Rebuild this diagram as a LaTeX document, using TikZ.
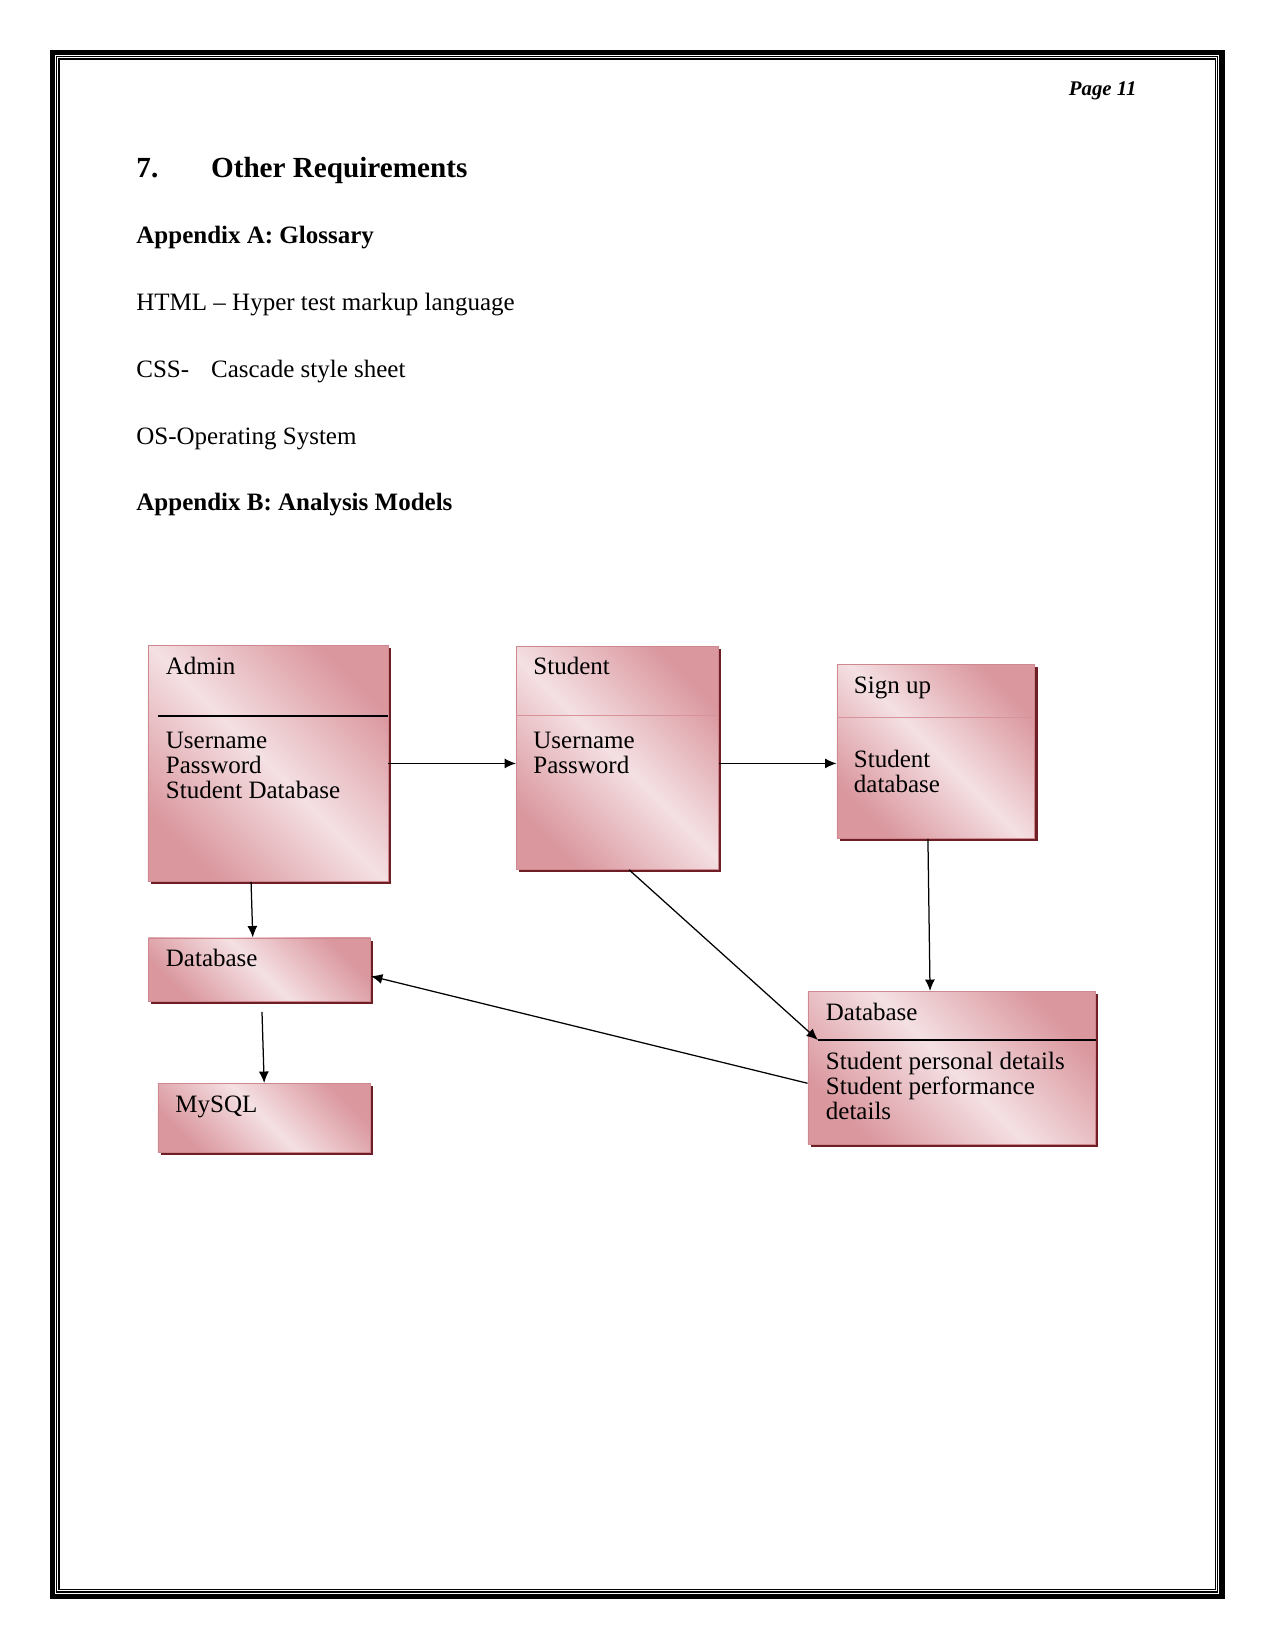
\documentclass[tikz,border=0pt]{standalone}
\usepackage{fontspec}
\setmainfont{Liberation Serif}
\usepackage{tikz}
\usetikzlibrary{arrows.meta,positioning,calc,shadows}
\definecolor{roseedge}{HTML}{DA979E}
\definecolor{roselight}{HTML}{F4E0E3}
\definecolor{roseline}{HTML}{CF8890}
\definecolor{rosedivide}{HTML}{D8929A}
\definecolor{boxshadow}{HTML}{6E1F26}
\tikzset{
  classbox/.style={draw=roseline,line width=0.4pt,anchor=north west,inner sep=0pt,
                   left color=roseedge,right color=roseedge,middle color=roselight,
                   shading angle=135,
                   general shadow={fill=boxshadow,shadow xshift=1.3pt,shadow yshift=-1.3pt}},
  titletext/.style={anchor=base west,inner sep=0pt,font=\fontsize{12pt}{11.8pt}\selectfont},
  bodytext/.style={anchor=base west,inner sep=0pt,align=left,
                   font=\fontsize{12pt}{11.8pt}\selectfont},
  pagetext/.style={anchor=base west,inner sep=0pt,font=\fontsize{12pt}{14pt}\selectfont},
  headtext/.style={anchor=base west,inner sep=0pt,font=\fontsize{14pt}{16pt}\selectfont\bfseries},
  blackdiv/.style={line width=0.6pt,black},
  pinkdiv/.style={line width=0.8pt,rosedivide},
  flowarr/.style={-{Latex[length=5.5pt,width=4.8pt]},line width=0.6pt}
}

\begin{document}
\begin{tikzpicture}[x=0.48pt,y=-0.48pt]
  \useasboundingbox (0,0) rectangle (1275,1650);
  % page frame
  \draw[line width=2.5pt] (52.5,52.5) rectangle (1222,1596.5);
  \draw[line width=0.5pt] (56.5,56.5) rectangle (1217.5,1592);
  \draw[line width=0.5pt] (59,59) rectangle (1215,1589.5);

  % header and glossary text
  \node[anchor=base east,inner sep=0pt,font=\fontsize{10pt}{12pt}\selectfont\bfseries\itshape]
    (pageno) at (1137,96) {Page 11};
  \node[headtext] (secnum) at (136,177.3) {7.};
  \node[headtext] (sectitle) at (210.7,177.3) {Other Requirements};
  \node[pagetext,font=\fontsize{12pt}{14pt}\selectfont\bfseries] (appA) at (136,244) {Appendix A: Glossary};
  \node[pagetext] (html) at (136,310.7) {HTML -- Hyper test markup language};
  \node[pagetext] (css) at (136,377.3) {CSS-};
  \node[pagetext] (cssdef) at (210.7,377.3) {Cascade style sheet};
  \node[pagetext] (os) at (136,444) {OS-Operating System};
  \node[pagetext,font=\fontsize{12pt}{14pt}\selectfont\bfseries] (appB) at (136,510) {Appendix B: Analysis Models};

  % boxes
  \node[classbox,minimum width=115.2pt,minimum height=113.3pt] (admin) at (147.5,645) {};
  \node[classbox,minimum width=97pt,minimum height=107pt] (student) at (516,646) {};
  \node[classbox,minimum width=95pt,minimum height=83.5pt] (signup) at (836.5,664) {};
  \node[classbox,minimum width=106.6pt,minimum height=30.5pt] (dbl) at (148,937.5) {};
  \node[classbox,minimum width=102pt,minimum height=32.9pt] (mysql) at (157.5,1083) {};
  \node[classbox,minimum width=138pt,minimum height=73.4pt] (dbr) at (807.5,991) {};

  % compartment lines
  \coordinate (admindiv) at ($(admin.north west)+(10,71)$);
  \coordinate (studentdiv) at ($(student.north west)+(0,69.5)$);
  \coordinate (signupdiv) at ($(signup.north west)+(0,53.5)$);
  \coordinate (dbrdiv) at ($(dbr.north west)+(10.5,49)$);
  \draw[blackdiv] (admindiv) -- (admindiv -| admin.east);
  \draw[pinkdiv] (studentdiv) -- (studentdiv -| student.east);
  \draw[pinkdiv] (signupdiv) -- (signupdiv -| signup.east);
  \draw[blackdiv] (dbrdiv) -- (dbrdiv -| dbr.east);

  % box texts (base = last line)
  \node[titletext] (admintitle) at ($(admin.north west)+(18,29)$) {Admin};
  \node[bodytext] (adminbody) at ($(admin.north west)+(18,153)$) {Username\\Password\\Student Database};
  \node[titletext] (studenttitle) at ($(student.north west)+(17,28)$) {Student};
  \node[bodytext] (studentbody) at ($(student.north west)+(17,127.5)$) {Username\\Password};
  \node[titletext] (signuptitle) at ($(signup.north west)+(17,29)$) {Sign up};
  \node[bodytext] (signupbody) at ($(signup.north west)+(17,128)$) {Student\\database};
  \node[titletext] (dbltitle) at ($(dbl.north west)+(17.5,29)$) {Database};
  \node[titletext] (mysqltitle) at ($(mysql.north west)+(17.5,29)$) {MySQL};
  \node[titletext] (dbrtitle) at ($(dbr.north west)+(18,29)$) {Database};
  \node[bodytext] (dbrbody) at ($(dbr.north west)+(18,128)$)
    {Student personal details\\Student performance\\details};

  % connectors
  \draw[flowarr] (admin.east) -- (admin.east -| student.west);
  \draw[flowarr] (admin.east -| student.east) -- (admin.east -| signup.west);
  \draw[flowarr] ($(admin.south west)!0.43!(admin.south east)$) -- ($(dbl.north west)!0.47!(dbl.north east)$);
  \draw[flowarr,shorten <=4.8pt] ($(dbl.south west)!0.51!(dbl.south east)$) -- (mysql.north);
  \draw[flowarr] ($(signup.south west)!0.46!(signup.south east)$) -- ($(dbr.north west)!0.425!(dbr.north east)$);
  \draw[flowarr] ($(student.south west)!0.557!(student.south east)$) -- (dbrdiv);
  \draw[flowarr] ($(dbr.north west)!0.6!(dbr.south west)$) -- ($(dbl.north east)!0.6!(dbl.south east)$);
\end{tikzpicture}
\end{document}
